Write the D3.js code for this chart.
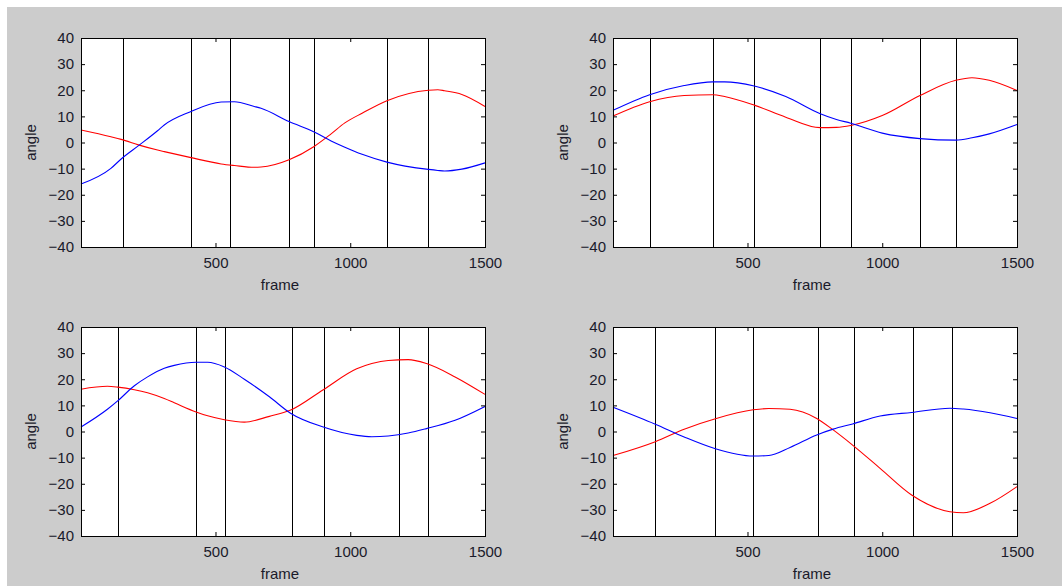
<!DOCTYPE html>
<html>
<head>
<meta charset="utf-8">
<script src="https://cdn.jsdelivr.net/npm/d3@7"></script>
<style>
    body { margin: 0; background: #fff; }
    svg { display: block; }
    .tick text { font-family: Arial, "Liberation Sans", sans-serif; font-size: 15px; fill: #1a1a2a; }
    .lbl { font-family: Arial, "Liberation Sans", sans-serif; font-size: 15px; fill: #1a1a2a; }
</style>
</head>
<body>
<div id="chart"></div>
<script>
const frames1 = [1, 112, 150, 217, 285, 310, 405, 521, 570, 644, 669, 773, 866, 929, 980, 1044, 1136, 1290, 1325, 1350, 1414, 1500];
const red1 = [4.8, 2.2, 1.2, -1.0, -2.9, -3.5, -5.7, -8.2, -8.8, -9.5, -9.4, -6.6, -1.5, 3.3, 7.5, 11.2, 16, 20, 20.2, 19.8, 18.4, 13.8];
const blue1 = [-15.9, -9.9, -6.3, -1.0, 4.5, 6.7, 11.7, 15.5, 15.6, 13.8, 13.1, 8.0, 4, 0.6, -1.8, -4.5, -7.5, -10.3, -10.7, -10.9, -10.2, -7.8];

const frames2 = [1, 137, 265, 371, 415, 525, 642, 770, 830, 883, 1000, 1140, 1273, 1333, 1397, 1500];
const red2 = [10.1, 15.6, 18, 18.3, 17.6, 14.3, 9.7, 5.7, 5.8, 6.5, 10.3, 18, 23.8, 24.8, 23.8, 19.9];
const blue2 = [12.3, 18.3, 21.8, 23.2, 23.2, 21.6, 17.6, 11, 8.8, 7.4, 3.6, 1.5, 0.9, 1.8, 3.3, 6.9];

const frames3 = [1, 99, 137, 199, 248, 310, 347, 428, 471, 533, 607, 700, 777, 900, 1024, 1080, 1141, 1215, 1283, 1389, 1500];
const red3 = [16.2, 17.3, 17.0, 16.0, 14.8, 12.6, 11.0, 7.5, 6.0, 4.5, 3.6, 5.8, 8.1, 16.0, 24.0, 26.0, 27.2, 27.5, 26.0, 20.9, 14.2];
const blue3 = [1.7, 8.5, 11.7, 17.5, 20.9, 24.2, 25.3, 26.5, 26.5, 24.7, 20.0, 13.3, 7.1, 1.7, -1.5, -2.0, -1.7, -0.6, 1.1, 4.3, 9.6];

const frames4 = [1, 158, 265, 381, 521, 579, 658, 757, 818, 890, 992, 1109, 1251, 1301, 1400, 1500];
const red4 = [-9.2, -3.9, 0.9, 4.9, 8.3, 8.8, 8.5, 5.0, 0.6, -5.2, -14.1, -24.3, -30.7, -31.1, -27.5, -21.1];
const blue4 = [9.3, 2.8, -2.1, -6.6, -9.4, -9.2, -6.1, -1.3, 0.9, 2.9, 5.9, 7.3, 8.9, 8.6, 7.2, 5.0];

// black event markers
const events1 = [155, 409, 553, 773, 866, 1136, 1290];
const events2 = [137, 371, 525, 770, 883, 1140, 1273];
const events3 = [140, 428, 534, 783, 901, 1182, 1287];
const events4 = [158, 381, 521, 761, 894, 1115, 1258];

const yTicks = [-40, -30, -20, -10, 0, 10, 20, 30, 40];
const xTicks = [500, 1000, 1500];

const panels = [
    {frames: frames1, red: red1, blue: blue1, events: events1, x: 81, y: 38},
    {frames: frames2, red: red2, blue: blue2, events: events2, x: 613, y: 38},
    {frames: frames3, red: red3, blue: blue3, events: events3, x: 81, y: 327},
    {frames: frames4, red: red4, blue: blue4, events: events4, x: 613, y: 327}
];

const W = 1062, H = 586;
const pw = 404, ph = 209;

const svg = d3.select("#chart").append("svg")
    .attr("width", W)
    .attr("height", H);

svg.append("rect")
    .attr("x", 7).attr("y", 7)
    .attr("width", W - 7).attr("height", H - 7)
    .attr("fill", "#cccccc");

panels.forEach(p => {
    const g = svg.append("g").attr("transform", "translate(" + p.x + "," + p.y + ")");

    const x = d3.scaleLinear().domain([1, 1500]).range([0, pw]);
    const y = d3.scaleLinear().domain([-40, 40]).range([ph, 0]);

    g.append("rect")
        .attr("width", pw).attr("height", ph)
        .attr("fill", "#fff");

    g.selectAll(".ev")
        .data(p.events)
        .enter()
        .append("line")
        .attr("x1", d => Math.round(x(d)) + 0.5)
        .attr("x2", d => Math.round(x(d)) + 0.5)
        .attr("y1", 0).attr("y2", ph)
        .attr("stroke", "#000")
        .attr("stroke-width", 1);

    const line = d3.line()
        .x((d, i) => x(p.frames[i]))
        .y(d => y(d))
        .curve(d3.curveMonotoneX);

    g.append("path").datum(p.red)
        .attr("d", line)
        .attr("fill", "none")
        .attr("stroke", "#ff0000")
        .attr("stroke-width", 1.1);

    g.append("path").datum(p.blue)
        .attr("d", line)
        .attr("fill", "none")
        .attr("stroke", "#0000ff")
        .attr("stroke-width", 1.1);

    // axes: ticks inward on all sides
    const axisStyle = a => {
        a.select(".domain").remove();
        a.selectAll(".tick line").attr("stroke", "#000");
    };

    g.append("g")
        .call(d3.axisLeft(y).tickValues(yTicks).tickSize(-4).tickPadding(7).tickFormat(d3.format("d")))
        .call(axisStyle);
    g.append("g").attr("transform", "translate(" + pw + ",0)")
        .call(d3.axisRight(y).tickValues(yTicks).tickSize(-4).tickFormat(""))
        .call(axisStyle);
    g.append("g").attr("transform", "translate(0," + ph + ")")
        .call(d3.axisBottom(x).tickValues(xTicks).tickSize(-4).tickPadding(10).tickFormat(d3.format("d")))
        .call(axisStyle);
    g.append("g")
        .call(d3.axisTop(x).tickValues(xTicks).tickSize(-4).tickFormat(""))
        .call(axisStyle);

    g.selectAll(".tick text").attr("fill", "#1a1a2a");

    g.append("rect")
        .attr("x", 0.5).attr("y", 0.5)
        .attr("width", pw).attr("height", ph)
        .attr("fill", "none")
        .attr("stroke", "#000")
        .attr("stroke-width", 1);

    g.append("text").attr("class", "lbl")
        .attr("x", pw / 2 - 3).attr("y", ph + 43)
        .attr("text-anchor", "middle")
        .text("frame");

    g.append("text").attr("class", "lbl")
        .attr("transform", "translate(-45," + (ph / 2) + ") rotate(-90)")
        .attr("text-anchor", "middle")
        .text("angle");
});
</script>
</body>
</html>
